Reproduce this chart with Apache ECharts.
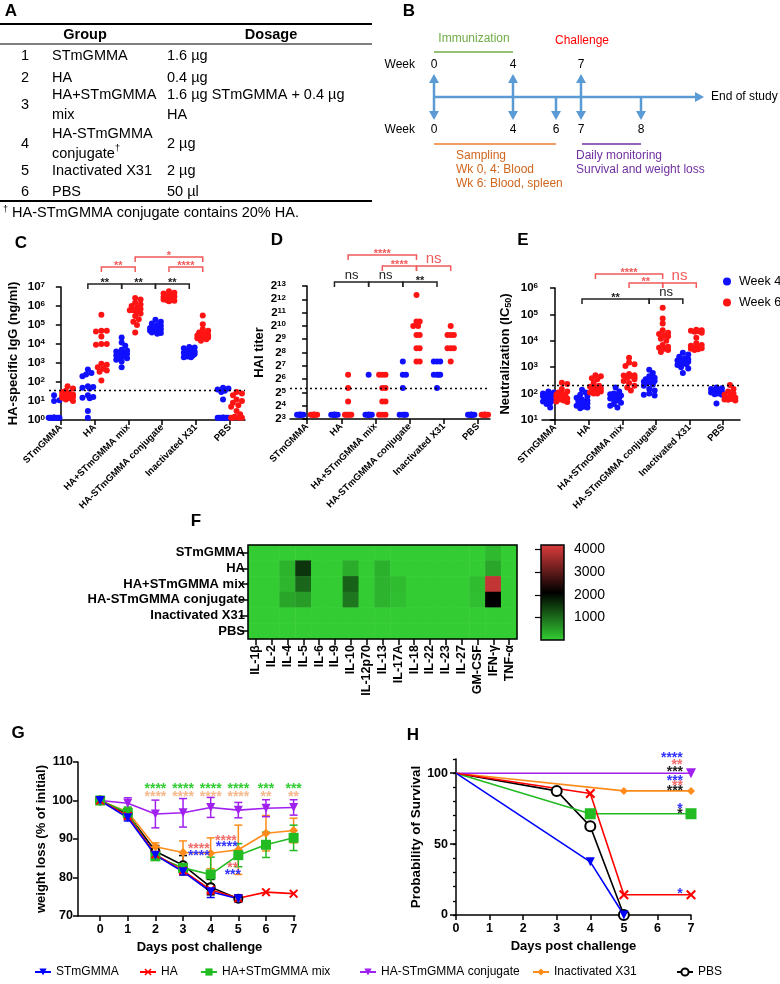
<!DOCTYPE html>
<html><head><meta charset="utf-8">
<script src="https://cdn.jsdelivr.net/npm/echarts@6/dist/echarts.min.js"></script>
<style>html,body{margin:0;padding:0;background:#fff}#c{width:780px;height:984px}</style>
</head><body><div id="c"></div><script>
const FONT = '"Liberation Sans", Arial, sans-serif';

// ================= DATA =================
// Panel A
const tableNums = ['1','2','3','4','5','6'];
const tableGroups = ['STmGMMA','HA','HA+STmGMMA\nmix','HA-STmGMMA\nconjugate{s|†}','Inactivated X31','PBS'];
const tableDosage = ['1.6 µg','0.4 µg','1.6 µg STmGMMA + 0.4 µg\nHA','2 µg','2 µg','50 µl'];
const footnote = '{s|†} HA-STmGMMA conjugate contains 20% HA.';

// Panels C-E categories
const groups = ['STmGMMA','HA','HA+STmGMMA mix','HA-STmGMMA conjugate','Inactivated X31','PBS'];
const weeks = ['Week 4','Week 6'];

// Panel C: HA-specific IgG (ng/ml)
const igg_w4 = [
  [1.3,1.3,1.3,1.3,1.3,1.3,1.3,1.3,1.3,1.3,1.3,1.3,10,11,20],
  [450,300,250,200,60,55,50,45,20,16,15,14,3,1.3],
  [22000,12000,8000,5000,4500,4000,3500,3000,3000,2500,2200,2000,1800,1500,1200,600],
  [190000,150000,120000,100000,90000,80000,70000,60000,60000,55000,50000,50000,45000,40000,38000,35000],
  [7000,6500,6000,5000,4500,4000,3500,3500,3200,3000,3000,2800,2500,2200,2000,2000],
  [50,45,40,35,30,12,1.3,1.3,1.3,1.3,1.3,1.3,1.3,1.3,1.3,1.3]
];
const igg_w6 = [
  [60,45,35,30,25,22,22,20,20,18,18,16,15,14,12,10],
  [350000,50000,50000,45000,25000,10000,10000,9000,900,800,600,500,400,350,120],
  [2600000,2200000,1500000,1200000,1000000,800000,700000,600000,600000,500000,400000,300000,200000,150000,100000,40000],
  [6000000,5000000,4500000,4000000,3500000,3200000,3000000,3000000,2800000,2500000,2500000,2200000,2000000,2000000,1900000,1800000],
  [320000,110000,60000,50000,40000,35000,30000,30000,28000,26000,25000,22000,20000,20000,18000,15000],
  [30,25,20,12,10,8,6,5,3,2,1.5,1.3,1.3,1.3,1.3]
];
const iggLimit = 35;

// Panel D: HAI titer
const hai_w4 = [
  [10,10,10,10,10,10,10,10],
  [10,10,10,10,10,10,10,10],
  [80,10,10,10,10,10,10,10],
  [160,80,80,40,10,10,10,10],
  [160,160,160,80,80,80,80,40],
  [10,10,10,10,10,10,10,10]
];
const hai_w6 = [
  [10,10,10,10,10,10,10,10],
  [80,40,20,10,10,10,10,10],
  [80,80,80,40,40,20,20,10,10,10],
  [5120,1280,1280,1024,1024,640,640,320,320,160,160],
  [1024,640,640,640,320,320,320,160],
  [10,10,10,10,10,10,10,10]
];
const haiLimit = 40;

// Panel E: Neutralization (IC50)
const neu_w4 = [
  [120,110,100,95,90,85,80,75,70,65,60,55,50,45,40,30],
  [140,110,90,80,70,60,55,50,45,42,40,35,32,30,28,60],
  [170,120,100,95,90,85,80,75,70,65,60,55,45,40,35,30],
  [800,600,450,400,350,320,300,280,250,220,200,150,130,100,90,85],
  [3500,3000,2500,2200,2000,1900,1800,1700,1600,1500,1400,1300,1200,1000,900,600],
  [170,160,150,140,130,120,110,100,95,90,42]
];
const neu_w6 = [
  [260,230,150,120,100,90,85,80,75,70,65,60,55,50,48,110],
  [500,450,380,350,250,200,180,170,160,150,140,130,120,110,100,100],
  [2300,1500,1300,1100,550,500,480,450,400,350,300,250,200,170,130,420],
  [180000,70000,45000,25000,20000,18000,16000,15000,12000,10000,7000,6000,5500,5000,4500,3800],
  [26000,25000,24000,23000,22000,20000,13000,8000,7000,6500,6000,5500,5200,5000,4800,4500],
  [210,150,120,100,90,80,70,65,62,60,58,55]
];
const neuLimit = 200;

// Significance brackets: [groupA, weekA, groupB, weekB, label, colour, level]
const sigC = [
  [1,0,2,0,'**','k',0],[2,0,3,0,'**','k',0],[3,0,4,0,'**','k',0],
  [1,1,2,1,'**','r',1],[3,1,4,1,'****','r',1],[2,1,4,1,'*','r',2]
];
const sigD = [
  [1,0,2,0,'ns','k',0],[2,0,3,0,'ns','k',0],[3,0,4,0,'**','k',0],
  [2,1,3,1,'****','r',1],[3,1,4,1,'ns','r',1],[1,1,3,1,'****','r',2]
];
const sigE = [
  [1,0,3,0,'**','k',0],[3,0,4,0,'ns','k',0],
  [2,1,3,1,'**','r',1],[3,1,4,1,'ns','r',1],[1,1,3,1,'****','r',2]
];

// Panel F: cytokine heatmap
const cytokines = ['IL-1β','IL-2','IL-4','IL-5','IL-6','IL-9','IL-10','IL-12p70','IL-13','IL-17A','IL-18','IL-22','IL-23','IL-27','GM-CSF','IFN-γ','TNF-α'];
const hm_STmGMMA = [0,0,0,0,0,0,0,0,0,0,0,0,0,0,0,200,0];
const hm_HA      = [0,0,250,1550,0,0,320,0,280,0,0,0,0,0,0,380,0];
const hm_mix     = [0,0,220,1050,0,0,1100,0,260,150,0,0,0,0,150,3950,0];
const hm_conj    = [0,0,400,480,0,0,880,0,260,130,0,0,0,0,130,2100,0];
const hm_X31     = [0,0,0,0,0,0,0,0,0,0,0,0,0,0,0,0,0];
const hm_PBS     = [0,0,0,0,0,0,0,0,0,0,0,0,0,0,0,0,0];
const colorbarTicks = [1000,2000,3000,4000];

// Panel G: weight loss (% of initial), mean and SD
const days = [0,1,2,3,4,5,6,7];
const wl_STmGMMA = [100,95.5,85.8,81.5,76.3,74.5];
const sd_STmGMMA = [0,0.8,0.8,0.8,1.5,0.8];
const wl_HA      = [100,96,86,81.8,76.8,74.6,76.2,75.8];
const sd_HA      = [0,0.8,1,1,1,0.8,0,0];
const wl_mix     = [100,96.8,85.5,82.5,80.8,85.8,88.5,90.3];
const sd_mix     = [0,1.5,1,1,4.5,3,3.3,3.3];
const wl_conj    = [100,99.3,96.5,96.8,98.2,97.5,98,98.2];
const sd_conj    = [0,1.4,3.6,3.7,2.6,2,2.2,2];
const wl_X31     = [100,97,88,86.5,86.3,87.2,91.5,92.2];
const sd_X31     = [0,1,1,3,4,6.4,4.6,3.2];
const wl_PBS     = [100,96.5,86.8,83.2,77.5,74.5];
const sd_PBS     = [0,1,1.5,2.5,2,0.8];
// star annotations in G: [day, value, text, colour]
const starsG = [
  [2,103,'****','g'],[3,103,'****','g'],[4,103,'****','g'],[5,103,'****','g'],[6,103,'***','g'],[7,103,'***','g'],
  [2,100.9,'****','o'],[3,100.9,'****','o'],[4,100.9,'****','o'],[5,100.9,'****','o'],[6,100.9,'**','o'],[7,100.9,'**','o'],
  [3.57,87.4,'****','r'],[3.57,85.6,'****','b'],[4.55,89.5,'****','r'],[4.58,87.9,'****','b'],
  [4.8,82.5,'**','r'],[4.8,80.7,'***','b']
];

// Panel H: survival (%)
const sd_days_STmGMMA = [0,4,5],   sv_STmGMMA = [100,37.5,0];
const sd_days_HA      = [0,4,5,7], sv_HA      = [100,85.7,14.3,14.3];
const sd_days_mix     = [0,4,7],   sv_mix     = [100,71.4,71.4];
const sd_days_conj    = [0,7],     sv_conj    = [100,100];
const sd_days_X31     = [0,5,7],   sv_X31     = [100,87.5,87.5];
const sd_days_PBS     = [0,3,4,5], sv_PBS     = [100,87.5,62.5,0];
const starsH = [
  [6.43,110.6,'****','b'],[6.58,105.7,'**','r'],[6.52,100.7,'***','k'],
  [6.52,94.4,'***','b'],[6.6,90.9,'**','r'],[6.52,87.3,'***','k'],
  [6.67,74.7,'*','b'],[6.67,71.1,'*','k'],[6.67,14.8,'*','b']
];

// ================= STYLE / LAYOUT =================
const BLUE = '#1010ff', RED = '#ff1414';
const SERIES_COL = {STmGMMA:'#0000ff', HA:'#ff0000', mix:'#22bb22', conj:'#a020f0', X31:'#ff8c1a', PBS:'#000000'};
const STAR_COL = {g:'#33cc33', o:'#f6b98c', r:'#f26d6d', b:'#3333ff', k:'#222222'};
const BR_COL = {k:'#222222', r:'#f05a5a'};
const XSYM = 'path://M0,1.5L1.5,0L5,3.5L8.5,0L10,1.5L6.5,5L10,8.5L8.5,10L5,6.5L1.5,10L0,8.5L3.5,5Z';
const SIDE = [-0.2, 0.2];

function swarm(vals, toPx, step, maxK) {
  const placed = [];
  return vals.map(v => {
    const y = toPx(v);
    let best = 0, bestD = -1;
    for (let k = 0; k <= 2 * maxK; k++) {
      const dx = k === 0 ? 0 : (k % 2 ? 1 : -1) * Math.ceil(k / 2) * step;
      let md = Infinity;
      placed.forEach(p => { md = Math.min(md, Math.hypot(p[0] - dx, p[1] - y)); });
      if (md >= 4.5) { best = dx; bestD = md; break; }
      if (md > bestD) { bestD = md; best = dx; }
    }
    placed.push([best, y]);
    return best;
  });
}
function scatterData(groupVals, side, unitPx, toPx, step, maxK) {
  const out = [];
  groupVals.forEach((vals, gi) => {
    const dx = swarm(vals, toPx, step, maxK);
    vals.forEach((v, k) => out.push([gi + side + dx[k] / unitPx, v]));
  });
  return out;
}

function txt(text, x, y, o) {
  o = o || {};
  const st = {text: text, x: x, y: y, fill: o.fill || '#000',
    font: (o.bold ? 'bold ' : '') + (o.size || 14.5) + 'px ' + FONT,
    textAlign: o.align || 'left', align: o.align || 'left',
    textVerticalAlign: 'middle', verticalAlign: 'middle'};
  if (o.lh) st.lineHeight = o.lh;
  if (o.rich) st.rich = o.rich;
  return {type: 'text', silent: true, style: st};
}
function hline(x1, x2, y, color, w) {
  return {type: 'line', silent: true, shape: {x1: x1, y1: y, x2: x2, y2: y}, style: {stroke: color, lineWidth: w}};
}
function arrow(x1, y1, x2, y2) {
  const col = '#5b9bd5', L = 9, H = 5;
  const dx = x2 - x1, dy = y2 - y1, len = Math.hypot(dx, dy);
  const ux = dx / len, uy = dy / len;
  const bx = x2 - ux * L, by = y2 - uy * L;
  return [
    {type: 'line', silent: true, shape: {x1: x1, y1: y1, x2: bx, y2: by}, style: {stroke: col, lineWidth: 2.5}},
    {type: 'polygon', silent: true, shape: {points: [[x2, y2], [bx - uy * H, by + ux * H], [bx + uy * H, by - ux * H]]}, style: {fill: col}}
  ];
}

// ----- graphic: panel letters, table A, schematic B -----
const graphics = [];
[['A',11,11],['B',409,11],['C',21,243],['D',277,240],['E',523,240],['F',196,521],['G',18,733],['H',413,735]]
  .forEach(l => graphics.push(txt(l[0], l[1], l[2], {bold: true, size: 17, align: 'center'})));

const supRich = {s: {fontSize: 9, fontFamily: FONT, verticalAlign: 'top', lineHeight: 14, padding: [0, 0, 6, 0]}};
graphics.push(hline(0, 372, 24, '#000', 2));
graphics.push(hline(0, 372, 44, '#000', 1.2));
graphics.push(hline(0, 372, 201, '#000', 2));
graphics.push(txt('Group', 85, 35, {bold: true, align: 'center'}));
graphics.push(txt('Dosage', 271, 35, {bold: true, align: 'center'}));
const rowY = [56, 78, 105, 144, 171, 192];
tableNums.forEach((n, i) => {
  graphics.push(txt(n, 25, rowY[i], {align: 'center'}));
  graphics.push(txt(tableGroups[i], 52, rowY[i], {lh: 20, rich: supRich}));
  graphics.push(txt(tableDosage[i], 167, rowY[i], {lh: 20}));
});
graphics.push(txt(footnote, 3, 213, {rich: supRich}));

// Schematic B
const BF = 12;
graphics.push(txt('Immunization', 474, 39, {fill: '#70ad47', size: BF, align: 'center'}));
graphics.push(hline(434, 513, 52, '#70ad47', 1.5));
graphics.push(txt('Challenge', 582, 41, {fill: '#ff0000', size: BF, align: 'center'}));
graphics.push(txt('Week', 415, 65, {size: BF, align: 'right'}));
graphics.push(txt('Week', 415, 130, {size: BF, align: 'right'}));
[['0',434],['4',513],['7',581]].forEach(w => graphics.push(txt(w[0], w[1], 65, {size: BF, align: 'center'})));
[['0',434],['4',513],['6',556],['7',581],['8',641]].forEach(w => graphics.push(txt(w[0], w[1], 130, {size: BF, align: 'center'})));
graphics.push(...arrow(434, 97, 704, 97));
[434, 513, 581].forEach(x => graphics.push(...arrow(x, 97, x, 74)));
[434, 513, 556, 581, 641].forEach(x => graphics.push(...arrow(x, 97, x, 120)));
graphics.push(txt('End of study', 711, 97, {size: BF}));
graphics.push(hline(434, 556, 144, '#ed7d31', 1.5));
graphics.push(hline(582, 641, 144, '#7030a0', 1.5));
graphics.push(txt('Sampling', 456, 156, {size: BF, fill: '#d0661e'}));
graphics.push(txt('Wk 0, 4: Blood', 456, 170, {size: BF, fill: '#d0661e'}));
graphics.push(txt('Wk 6: Blood, spleen', 456, 184, {size: BF, fill: '#d0661e'}));
graphics.push(txt('Daily monitoring', 576, 156, {size: BF, fill: '#7030a0'}));
graphics.push(txt('Survival and weight loss', 576, 170, {size: BF, fill: '#7030a0'}));

// ----- axes helpers -----
const AX = {lineStyle: {color: '#000', width: 1.5}};
const TICK = {show: true, length: 5, lineStyle: {color: '#000', width: 1.5}};
function catXAxis(grid, min, max) {
  return {type: 'value', gridIndex: grid, min: min, max: max,
    axisLine: {show: true, onZero: false, lineStyle: AX.lineStyle},
    axisTick: Object.assign({customValues: [0,1,2,3,4,5]}, TICK),
    axisLabel: {customValues: [0,1,2,3,4,5], rotate: 45, margin: 6, formatter: v => groups[Math.round(v)],
      fontFamily: FONT, fontWeight: 'bold', fontSize: 9.5, color: '#000'},
    splitLine: {show: false}};
}
const supLabelRich = {
  b: {fontFamily: FONT, fontWeight: 'bold', fontSize: 11.5, color: '#000', verticalAlign: 'bottom', lineHeight: 12},
  s: {fontFamily: FONT, fontWeight: 'bold', fontSize: 8, color: '#000', verticalAlign: 'top', lineHeight: 12}
};
function logYAxis(grid, base, min, max, split, name, gap) {
  return {type: 'log', logBase: base, gridIndex: grid, min: min, max: max, splitNumber: split, interval: 1,
    axisLine: {show: true, lineStyle: AX.lineStyle}, axisTick: Object.assign({interval: 0}, TICK),
    axisLabel: {margin: 4, interval: 0, showMinLabel: true, showMaxLabel: true, hideOverlap: false,
      formatter: v => '{b|' + base + '}{s|' + Math.round(Math.log(v) / Math.log(base)) + '}', rich: supLabelRich},
    minorTick: {show: false}, splitLine: {show: false},
    name: name, nameLocation: 'middle', nameGap: gap, nameRotate: 90,
    nameTextStyle: {fontFamily: FONT, fontWeight: 'bold', fontSize: 13, color: '#000',
      rich: {sub: {fontFamily: FONT, fontWeight: 'bold', fontSize: 9, color: '#000', verticalAlign: 'bottom', lineHeight: 16}, n: {fontFamily: FONT, fontWeight: 'bold', fontSize: 13, color: '#000', lineHeight: 16}}}};
}

function dotSeries(name, color, xi, data, limit) {
  const s = {type: 'scatter', name: name, xAxisIndex: xi, yAxisIndex: xi, data: data, symbol: 'circle', symbolSize: 6,
    itemStyle: {color: color, opacity: 1}, clip: false, silent: true, z: 3};
  if (limit !== undefined) {
    s.markLine = {silent: true, symbol: ['none', 'none'], label: {show: false},
      lineStyle: {color: '#000', type: [2, 3], width: 1.3}, data: [{yAxis: limit}]};
  }
  return s;
}
function bracketSeries(xi, list, rises, yRef) {
  return {type: 'custom', xAxisIndex: xi, yAxisIndex: xi, clip: false, silent: true, z: 5,
    data: list.map(b => [b[0] + SIDE[b[1]], b[2] + SIDE[b[3]], yRef]),
    encode: {x: [0, 1], y: 2},
    renderItem: (params, api) => {
      const b = list[params.dataIndex];
      const xa = api.coord([api.value(0), yRef])[0];
      const xb = api.coord([api.value(1), yRef])[0];
      const y = params.coordSys.y - rises[b[6]];
      const col = BR_COL[b[5]];
      const ns = b[4] === 'ns';
      const fs = ns ? (b[5] === 'r' ? 15 : 13) : 11;
      return {type: 'group', children: [
        {type: 'polyline', shape: {points: [[xa, y + 5], [xa, y], [xb, y], [xb, y + 5]]}, style: {stroke: col, lineWidth: 1.5, fill: null}},
        {type: 'text', style: {text: b[4], x: (xa + xb) / 2, y: ns ? y - 7 : y - 1, textAlign: 'center', align: 'center',
          textVerticalAlign: 'middle', verticalAlign: 'middle', fill: col, font: (ns ? '' : 'bold ') + fs + 'px ' + FONT}}
      ]};
    }};
}
function errSeries(xi, dd, means, sds, color) {
  return {type: 'custom', xAxisIndex: xi, yAxisIndex: xi, silent: true, z: 1, clip: false,
    data: means.map((m, i) => [dd[i], m, sds[i]]).filter(r => r[2] > 0),
    encode: {x: 0, y: 1},
    renderItem: (params, api) => {
      const x = api.value(0), m = api.value(1), s = api.value(2);
      const p1 = api.coord([x, m + s]), p2 = api.coord([x, m - s]);
      const w = 4, st = {stroke: color, lineWidth: 1.5};
      return {type: 'group', children: [
        {type: 'line', shape: {x1: p1[0], y1: p1[1], x2: p2[0], y2: p2[1]}, style: st},
        {type: 'line', shape: {x1: p1[0] - w, y1: p1[1], x2: p1[0] + w, y2: p1[1]}, style: st},
        {type: 'line', shape: {x1: p2[0] - w, y1: p2[1], x2: p2[0] + w, y2: p2[1]}, style: st}
      ]};
    }};
}
function starSeries(xi, yi, list) {
  return {type: 'custom', xAxisIndex: xi, yAxisIndex: yi, silent: true, clip: false, z: 6,
    data: list.map(a => [a[0], a[1]]), encode: {x: 0, y: 1},
    renderItem: (params, api) => {
      const a = list[params.dataIndex];
      const p = api.coord([api.value(0), api.value(1)]);
      return {type: 'text', style: {text: a[2], x: p[0], y: p[1], textAlign: 'center', align: 'center',
        textVerticalAlign: 'middle', verticalAlign: 'middle', fill: STAR_COL[a[3]], font: 'bold 14px ' + FONT}};
    }};
}

// ---- build scatter data ----
const cPx = v => Math.log10(v) * 19, dPx = v => Math.log2(v) * 13.3, ePx = v => Math.log10(v) * 26.4;
const series = [];
series.push(dotSeries(weeks[0], BLUE, 0, scatterData(igg_w4, SIDE[0], 33.8, cPx, 1.8, 3), iggLimit));
series.push(dotSeries(weeks[1], RED, 0, scatterData(igg_w6, SIDE[1], 33.8, cPx, 1.8, 3)));
series.push(bracketSeries(0, sigC, [3, 20, 30], 10));
series.push(dotSeries(weeks[0], BLUE, 1, scatterData(hai_w4, SIDE[0], 34.2, dPx, 1.6, 2), haiLimit));
series.push(dotSeries(weeks[1], RED, 1, scatterData(hai_w6, SIDE[1], 34.2, dPx, 1.6, 2)));
series.push(bracketSeries(1, sigD, [4, 20, 31], 16));
series.push(dotSeries(weeks[0], BLUE, 2, scatterData(neu_w4, SIDE[0], 33.6, ePx, 1.8, 3), neuLimit));
series.push(dotSeries(weeks[1], RED, 2, scatterData(neu_w6, SIDE[1], 33.6, ePx, 1.8, 3)));
series.push(bracketSeries(2, sigE, [-11, 5, 14], 100));

// heatmap
const hmRows = [hm_STmGMMA, hm_HA, hm_mix, hm_conj, hm_X31, hm_PBS];
const hmData = [];
hmRows.forEach((row, r) => row.forEach((v, c) => hmData.push([c, r, v])));
const heatIndex = series.length;
series.push({type: 'heatmap', xAxisIndex: 3, yAxisIndex: 3, data: hmData, silent: true, itemStyle: {borderWidth: 0}});

// weight loss (G)
const gSeries = [
  ['STmGMMA', wl_STmGMMA, sd_STmGMMA, 'triangle', 9, 180],
  ['HA', wl_HA, sd_HA, XSYM, 9, 0],
  ['HA+STmGMMA mix', wl_mix, sd_mix, 'rect', 10, 0],
  ['HA-STmGMMA conjugate', wl_conj, sd_conj, 'triangle', 9, 180],
  ['Inactivated X31', wl_X31, sd_X31, 'diamond', 9, 0],
  ['PBS', wl_PBS, sd_PBS, 'emptyCircle', 8, 0]
];
const gKeys = ['STmGMMA','HA','mix','conj','X31','PBS'];
const drawOrder = [5, 4, 3, 2, 1, 0];
drawOrder.forEach(i => {
  const g = gSeries[i], col = SERIES_COL[gKeys[i]];
  series.push(errSeries(5, days, g[1], g[2], col));
});
drawOrder.forEach(i => {
  const g = gSeries[i], col = SERIES_COL[gKeys[i]];
  series.push({type: 'line', name: g[0], xAxisIndex: 5, yAxisIndex: 5, data: g[1].map((v, k) => [days[k], v]),
    symbol: g[3], symbolSize: g[4], symbolRotate: g[5], showAllSymbol: true, silent: true,
    lineStyle: {color: col, width: 1.6}, itemStyle: {color: col, borderColor: col, borderWidth: g[3] === 'emptyCircle' ? 1.5 : 0},
    z: 3});
});
series.push(starSeries(5, 5, starsG));

// survival (H)
const hSeries = [
  ['STmGMMA', sd_days_STmGMMA, sv_STmGMMA, 'triangle', 9, 180],
  ['HA', sd_days_HA, sv_HA, XSYM, 10, 0],
  ['HA+STmGMMA mix', sd_days_mix, sv_mix, 'rect', 11, 0],
  ['HA-STmGMMA conjugate', sd_days_conj, sv_conj, 'triangle', 10, 180],
  ['Inactivated X31', sd_days_X31, sv_X31, 'diamond', 8, 0],
  ['PBS', sd_days_PBS, sv_PBS, 'emptyCircle', 10, 0]
];
drawOrder.forEach(i => {
  const h = hSeries[i], col = SERIES_COL[gKeys[i]];
  series.push({type: 'line', name: h[0], xAxisIndex: 6, yAxisIndex: 6,
    data: h[2].map((v, k) => k === 0 ? {value: [h[1][k], v], symbol: 'none'} : [h[1][k], v]),
    symbol: h[3], symbolSize: h[4], symbolRotate: h[5], showAllSymbol: true, silent: true, clip: false,
    lineStyle: {color: col, width: 1.6}, itemStyle: {color: col, borderColor: col, borderWidth: h[3] === 'emptyCircle' ? 1.8 : 0},
    z: 3});
});
series.push(starSeries(6, 6, starsH));

// ----- legends -----
const legendLeft = [34, 139, 200, 359, 532, 676];
const legends = gSeries.map((g, i) => ({
  data: [g[0]], left: legendLeft[i], top: 966, orient: 'horizontal', selectedMode: false, padding: 0,
  itemWidth: 16, itemHeight: 9, itemGap: 0,
  textStyle: {fontFamily: FONT, fontSize: 12, color: '#000'}
}));
legends.push({data: weeks, left: 723, top: 275, orient: 'vertical', selectedMode: false, icon: 'circle', padding: 0,
  itemWidth: 8, itemHeight: 8, itemGap: 8, textStyle: {fontFamily: FONT, fontSize: 12.5, color: '#000', padding: [0, 0, 0, 3]}});

const boldTick = {fontFamily: FONT, fontWeight: 'bold', fontSize: 12.5, color: '#000'};
const option = {
  animation: false,
  backgroundColor: '#fff',
  graphic: {elements: graphics},
  legend: legends,
  grid: [
    {left: 49, top: 287, width: 196, height: 133, outerBoundsMode: 'none', containLabel: false},
    {left: 290, top: 286, width: 200, height: 133, outerBoundsMode: 'none', containLabel: false},
    {left: 542, top: 288, width: 198, height: 132, outerBoundsMode: 'none', containLabel: false},
    {left: 248, top: 545, width: 269, height: 94, show: true, borderColor: '#000', borderWidth: 1.5, backgroundColor: 'transparent', z: 5, outerBoundsMode: 'none', containLabel: false},
    {left: 541, top: 545, width: 23, height: 95, show: true, borderColor: '#000', borderWidth: 1.5, backgroundColor: 'transparent', z: 6, outerBoundsMode: 'none', containLabel: false},
    {left: 78, top: 762, width: 217, height: 154, outerBoundsMode: 'none', containLabel: false},
    {left: 456, top: 759, width: 235, height: 156, outerBoundsMode: 'none', containLabel: false}
  ],
  xAxis: [
    catXAxis(0, -0.35, 5.45),
    catXAxis(1, -0.5, 5.35),
    catXAxis(2, -0.39, 5.5),
    {type: 'category', gridIndex: 3, data: cytokines, position: 'bottom',
      axisLine: {show: false}, axisTick: {show: true, length: 6, alignWithLabel: true, lineStyle: {color: '#000', width: 1.5}},
      axisLabel: {rotate: 90, interval: 0, margin: 6, fontFamily: FONT, fontWeight: 'bold', fontSize: 12.5, color: '#000'},
      splitLine: {show: false}},
    {type: 'value', gridIndex: 4, show: false, min: 0, max: 1},
    {type: 'value', gridIndex: 5, min: -0.8, max: 7.05,
      axisLine: {show: true, onZero: false, lineStyle: AX.lineStyle},
      axisTick: Object.assign({customValues: days}, TICK),
      axisLabel: {customValues: days, margin: 7, ...boldTick}, splitLine: {show: false},
      name: 'Days post challenge', nameLocation: 'middle', nameGap: 25,
      nameTextStyle: {fontFamily: FONT, fontWeight: 'bold', fontSize: 13, color: '#000', padding: [0, 0, 0, 26]}},
    {type: 'value', gridIndex: 6, min: 0, max: 7, interval: 1,
      axisLine: {show: true, onZero: false, lineStyle: AX.lineStyle}, axisTick: TICK,
      axisLabel: {margin: 7, ...boldTick}, splitLine: {show: false},
      name: 'Days post challenge', nameLocation: 'middle', nameGap: 25,
      nameTextStyle: {fontFamily: FONT, fontWeight: 'bold', fontSize: 13, color: '#000'}}
  ],
  yAxis: [
    logYAxis(0, 10, 1, 1e7, 7, 'HA-specific IgG (ng/ml)', 29),
    logYAxis(1, 2, 8, 8192, 10, 'HAI titer', 24),
    logYAxis(2, 10, 10, 1e6, 5, '{n|Neutralization (IC}{sub|50}{n|)}', 29),
    {type: 'category', gridIndex: 3, data: groups, inverse: true,
      axisLine: {show: false}, axisTick: {show: true, length: 8, alignWithLabel: true, lineStyle: {color: '#000', width: 1.5}},
      axisLabel: {margin: 3, interval: 0, fontFamily: FONT, fontWeight: 'bold', fontSize: 13, color: '#000'},
      splitLine: {show: false}},
    {type: 'value', gridIndex: 4, position: 'right', min: 0, max: 4200, z: 7,
      axisLine: {show: false},
      axisTick: {show: true, inside: true, length: 6, customValues: colorbarTicks, lineStyle: {color: '#000', width: 1.2}},
      axisLabel: {customValues: colorbarTicks, margin: 10, formatter: v => String(v), fontFamily: FONT, fontSize: 14, color: '#000'},
      splitLine: {show: false}},
    {type: 'value', gridIndex: 5, min: 70, max: 110, interval: 10,
      axisLine: {show: true, onZero: false, lineStyle: AX.lineStyle}, axisTick: TICK,
      axisLabel: {margin: 5, ...boldTick}, splitLine: {show: false},
      name: 'weight loss (% of initial)', nameLocation: 'middle', nameGap: 25,
      nameTextStyle: {fontFamily: FONT, fontWeight: 'bold', fontSize: 13, color: '#000'}},
    {type: 'value', gridIndex: 6, min: 0, max: 110, interval: 10,
      axisLine: {show: true, onZero: false, lineStyle: AX.lineStyle},
      axisTick: {show: true, length: 3, lineStyle: {color: '#000', width: 1.3}},
      axisLabel: {show: false}, splitLine: {show: false},
      name: 'Probability of Survival', nameLocation: 'middle', nameGap: 33,
      nameTextStyle: {fontFamily: FONT, fontWeight: 'bold', fontSize: 13.5, color: '#000'}},
    {type: 'value', gridIndex: 6, min: 0, max: 110, position: 'left',
      axisLine: {show: false},
      axisTick: {show: true, length: 6, customValues: [0, 50, 100], lineStyle: {color: '#000', width: 1.5}},
      axisLabel: {customValues: [0, 50, 100], margin: 8, ...boldTick}, splitLine: {show: false}}
  ],
  visualMap: [{type: 'continuous', seriesIndex: heatIndex, min: 0, max: 4200, left: 541, top: 545, padding: 0,
    itemWidth: 23, itemHeight: 95, calculable: false, text: null, showLabel: false, z: 4,
    inRange: {color: ['#33cc33', '#000000', '#dc3c3c']}, textStyle: {color: 'transparent'}}],
  series: series
};
const chart = echarts.init(document.getElementById('c'), null, {renderer: 'canvas', width: 780, height: 984});
chart.setOption(option);
</script></body></html>
